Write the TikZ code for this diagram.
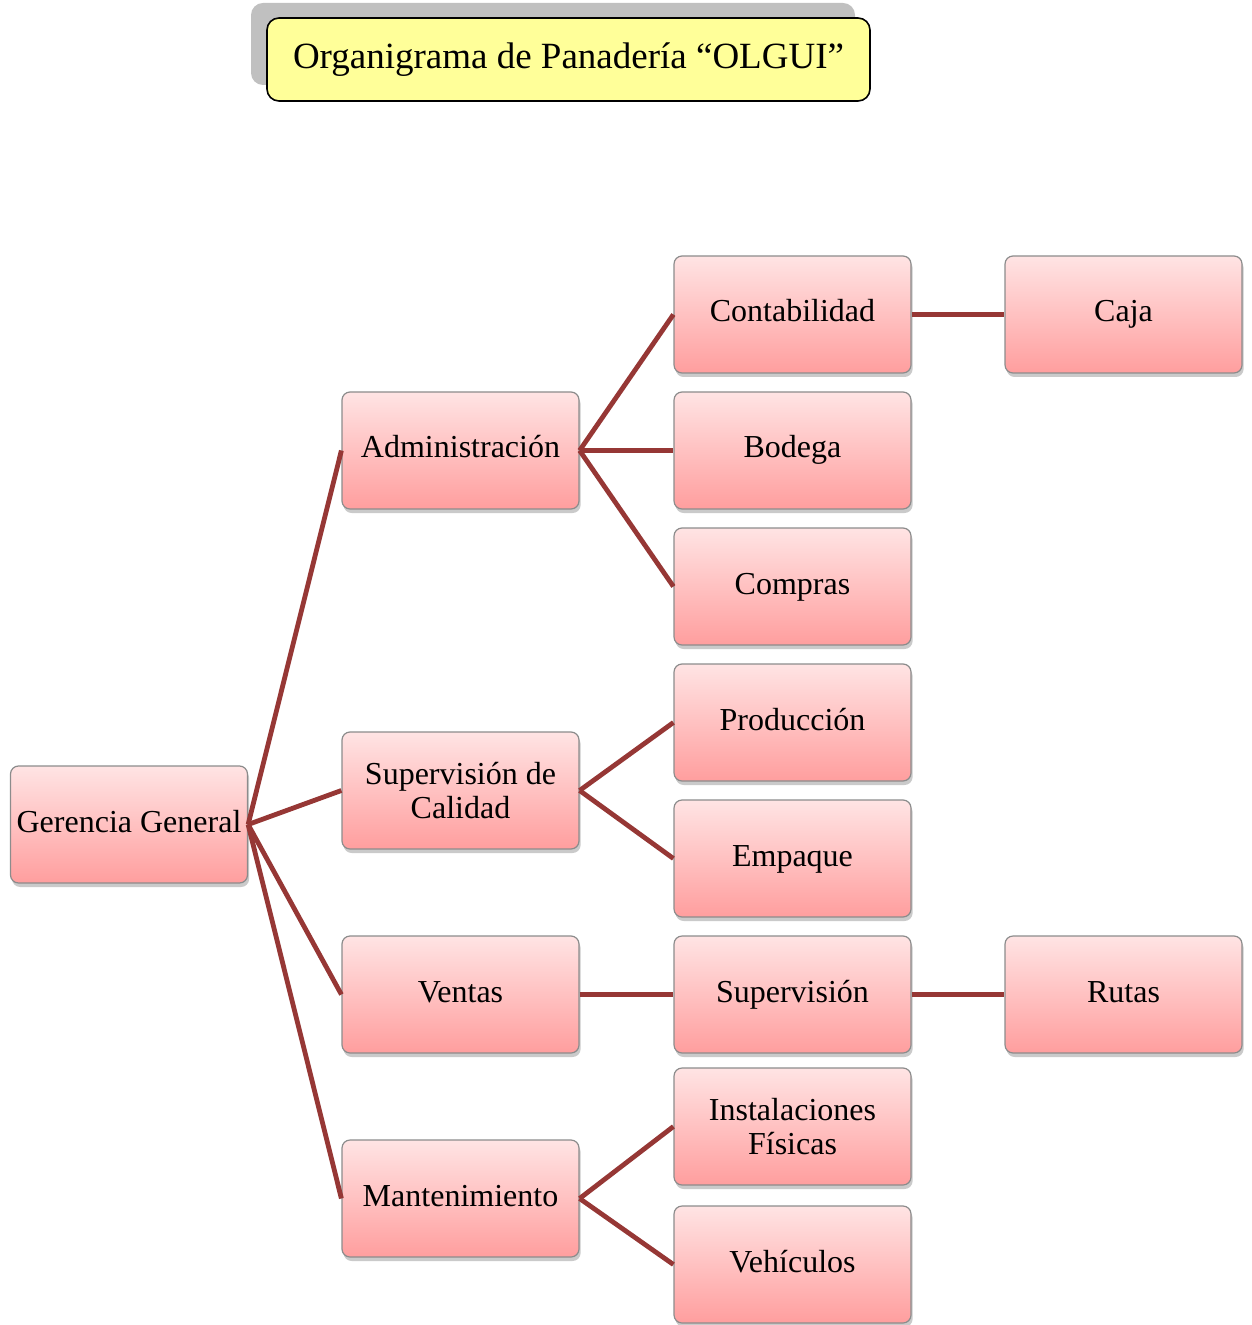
\documentclass[tikz,border=0pt]{standalone}
\usepackage{fontspec}
\setmainfont{Liberation Serif}
\usetikzlibrary{shadows}
\definecolor{linkred}{RGB}{150,55,53}
\definecolor{boxtop}{RGB}{255,228,228}
\definecolor{boxbot}{RGB}{255,158,158}
\definecolor{titlefill}{RGB}{255,255,153}
\definecolor{shadowgray}{RGB}{192,192,192}
\tikzset{
  orgbox/.style={draw=black!45, line width=0.6pt, rounded corners=4pt,
    top color=boxtop, bottom color=boxbot,
    minimum width=118.5pt, minimum height=58.5pt, inner sep=0pt,
    align=center, font=\fontsize{16}{17}\selectfont,
    drop shadow={shadow xshift=0.8pt, shadow yshift=-2pt, opacity=0.35, fill=black!60}},
  oneline/.style={orgbox, text height=11pt, text depth=3.5pt},
  link/.style={draw=linkred, line width=2.4pt},
}
\begin{document}
\begin{tikzpicture}[x=0.5pt,y=-0.5pt]
\useasboundingbox (0,0) rectangle (1251,1325);
% title
\node[fill=shadowgray, rounded corners=6pt, minimum width=302pt, minimum height=41pt, inner sep=0pt] (tshadow) at (553,44) {};
\node[draw=black, line width=0.8pt, fill=titlefill, rounded corners=6pt, minimum width=301.5pt, minimum height=41.5pt, inner sep=0pt, font=\fontsize{18.5}{20}\selectfont] (title) at (568.5,59.5) {Organigrama de Panadería “OLGUI”};
% nodes
\node[oneline] (gg) at (129,824.5) {Gerencia General};
\node[oneline] (adm) at (460.5,450.5) {Administración};
\node[orgbox] (sup) at (460.5,790.5) {Supervisión de\\Calidad};
\node[oneline] (ven) at (460.5,994.5) {Ventas};
\node[oneline] (man) at (460.5,1198.5) {Mantenimiento};
\node[oneline] (con) at (792.5,314.5) {Contabilidad};
\node[oneline] (bod) at (792.5,450.5) {Bodega};
\node[oneline] (com) at (792.5,586.5) {Compras};
\node[oneline] (pro) at (792.5,722.5) {Producción};
\node[oneline] (emp) at (792.5,858.5) {Empaque};
\node[oneline] (svs) at (792.5,994.5) {Supervisión};
\node[orgbox] (ins) at (792.5,1126.5) {Instalaciones\\Físicas};
\node[oneline] (veh) at (792.5,1264.5) {Vehículos};
\node[oneline] (caj) at (1123.5,314.5) {Caja};
\node[oneline] (rut) at (1123.5,994.5) {Rutas};
% links
\draw[link] (gg.east) -- (adm.west);
\draw[link] (gg.east) -- (sup.west);
\draw[link] (gg.east) -- (ven.west);
\draw[link] (gg.east) -- (man.west);
\draw[link] (adm.east) -- (con.west);
\draw[link] (adm.east) -- (bod.west);
\draw[link] (adm.east) -- (com.west);
\draw[link] (sup.east) -- (pro.west);
\draw[link] (sup.east) -- (emp.west);
\draw[link] (ven.east) -- (svs.west);
\draw[link] (man.east) -- (ins.west);
\draw[link] (man.east) -- (veh.west);
\draw[link] (con.east) -- (caj.west);
\draw[link] (svs.east) -- (rut.west);
\end{tikzpicture}
\end{document}
